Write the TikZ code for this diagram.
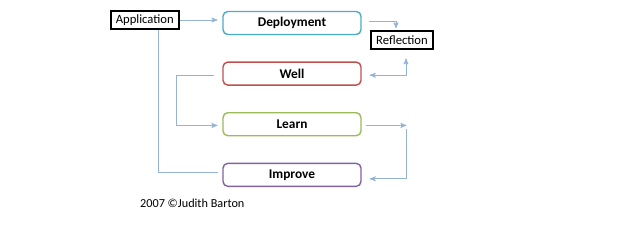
\documentclass[tikz,border=0pt]{standalone}
\usepackage{fontspec}
\setmainfont{Carlito}
\usetikzlibrary{arrows,positioning,calc}
\definecolor{azulclaro}{HTML}{95B3D7}
\definecolor{cian}{HTML}{4BACC6}
\definecolor{rojo}{HTML}{C0504D}
\definecolor{verde}{HTML}{9BBB59}
\definecolor{morado}{HTML}{8064A2}
\tikzset{
    etapa/.style={
        rectangle,                % caja de cada etapa
        rounded corners=1.2mm,    % esquinas apenas redondeadas
        draw=#1,                  % borde con el color de la etapa
        fill=white,
        line width=1pt,
        minimum width=3.45cm,     % todas las cajas del mismo ancho
        minimum height=0.575cm,
        font=\fontsize{9.5}{11}\selectfont\bfseries,
        align=center
    },
    etiqueta/.style={
        rectangle,                % caja simple, sin redondeo
        draw=black,
        line width=1pt,
        inner sep=2pt,
        minimum height=0.45cm,
        font=\fontsize{9}{11}\selectfont
    },
    conector/.style={
        draw=azulclaro,           % lineas azul claro, finas
        line width=0.6pt,
        >=stealth'
    }
}
\begin{document}
\begin{tikzpicture}[node distance=0.655cm]
    \useasboundingbox (0,0) rectangle (15.5,-5.725);
    \node[etapa=cian] (dep) at (7.3,-0.575) {Deployment};
    \node[etapa=rojo, below=of dep] (well) {Well};
    \node[etapa=verde, below=of well] (learn) {Learn};
    \node[etapa=morado, below=of learn] (imp) {Improve};
    \node[etiqueta, minimum width=1.7cm] (app) at (3.62,-0.5) {Application};
    \node[etiqueta, minimum width=1.55cm] (ref) at (10.05,-1.0) {Reflection};
    \node[anchor=west, font=\fontsize{8.7}{11}\selectfont] (autor) at (3.38,-5.08) {2007 ©Judith Barton};

    \coordinate (dsal) at ($(dep.east)+(0.18,0.04)$);
    \coordinate (rent) at ($(ref.north)+(-0.15,0.05)$);
    \coordinate (rsal) at ($(ref.south)+(0.1,-0.22)$);
    \coordinate (wder) at ($(well.east)+(0.2,-0.04)$);
    \coordinate (wizq) at ($(well.west)+(-0.2,-0.04)$);
    \coordinate (ldes) at ($(learn.east)+(1.12,-0.03)$);
    \coordinate (lbaj) at ($(ldes)+(0,-0.1)$);

    \draw[conector,->,shorten >=0.12cm] (app.east) -- (app.east -| dep.west);
    \draw[conector,->] (dsal) -| (rent);
    \draw[conector,<->] (wder) -| (rsal);
    \draw[conector,->,shorten >=0.12cm] (wizq) -- ++(-0.95,0) |- ($(learn.west)+(0,-0.03)$);
    \draw[conector] ([xshift=0.35cm]app.south) |- ([xshift=-0.12cm,yshift=0.05cm]imp.west);
    \draw[conector,->] ([xshift=0.1cm,yshift=-0.03cm]learn.east) -- (ldes);
    \draw[conector,->,shorten >=0.2cm] (lbaj) |- ([yshift=-0.1cm]imp.east);
\end{tikzpicture}
\end{document}
